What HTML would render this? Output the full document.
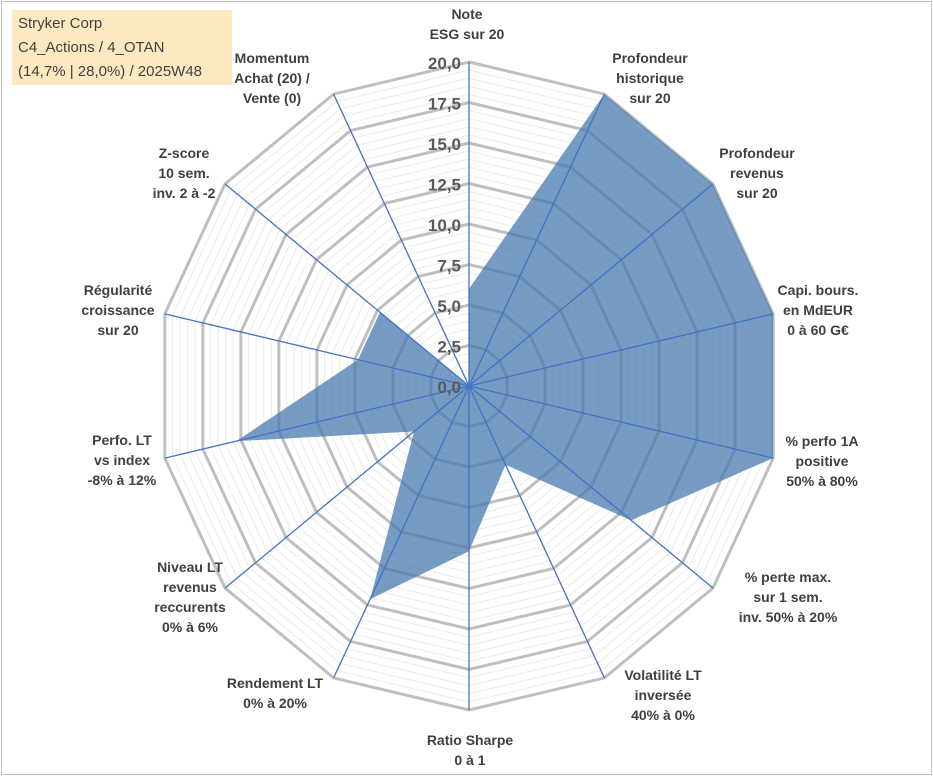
<!DOCTYPE html>
<html><head><meta charset="utf-8"><style>
body{margin:0;background:#fff;}
#wrap{position:relative;width:933px;height:776px;overflow:hidden;font-family:"Liberation Sans",sans-serif;}
#frame{position:absolute;left:1px;top:1px;width:929px;height:772px;border:1px solid #bfbfbf;}
#title{position:absolute;left:12px;top:10px;width:220px;height:75px;background:#fde9c0;color:#404040;font-size:15px;line-height:24px;padding-left:6px;box-sizing:border-box;padding-top:2px;}
</style></head><body>
<div id="wrap">
<div id="frame"></div>
<svg id="svg" width="933" height="776" style="position:absolute;left:0;top:0"></svg>
<div id="title">Stryker Corp<br>C4_Actions / 4_OTAN<br>(14,7% | 28,0%) / 2025W48</div>
</div>
<script>
const categories=[["Note","ESG sur 20"],["Profondeur","historique","sur 20"],["Profondeur","revenus","sur 20"],["Capi. bours.","en MdEUR","0 à 60 G€"],["% perfo 1A","positive","50% à 80%"],["% perte max.","sur 1 sem.","inv. 50% à 20%"],["Volatilité LT","inversée","40% à 0%"],["Ratio Sharpe","0 à 1"],["Rendement LT","0% à 20%"],["Niveau LT","revenus","reccurents","0% à 6%"],["Perfo. LT","vs index","-8% à 12%"],["Régularité","croissance","sur 20"],["Z-score","10 sem.","inv. 2 à -2"],["Momentum","Achat (20) /","Vente (0)"]];
const values=[6,20,20,20,20,13.3,5.4,10.2,14.6,4.5,15.3,7.3,7.3,0];
const tickLabels=["0,0","2,5","5,0","7,5","10,0","12,5","15,0","17,5","20,0"];
const labelPos=[[467,19],[650,63],[757,158],[818,295],[822,446],[788,582],[663,680],[470,745],[275,688],[190,572],[122,445],[118,295],[184,158],[272,63]];
const cx=469,cy=386,RX=312,RY=324,maxV=20,N=categories.length;
const svg=document.getElementById('svg');const NS='http://www.w3.org/2000/svg';
function ang(i){return i*2*Math.PI/N;}
function pt(i,v){const f=v/maxV,a=ang(i);return [cx+f*RX*Math.sin(a),cy-f*RY*Math.cos(a)];}
function mk(t,attrs){const e=document.createElementNS(NS,t);for(const k in attrs)e.setAttribute(k,attrs[k]);svg.appendChild(e);return e;}
for(let k=1;k<=40;k++){const v=k*0.5;if(k%5===0)continue;
 const p=[];for(let i=0;i<N;i++)p.push(pt(i,v).join(','));
 const e=mk('polygon',{points:p.join(' '),fill:'none',stroke:'#ececec','stroke-width':1});
 
 }
for(let k=1;k<=8;k++){const v=k*2.5;const p=[];for(let i=0;i<N;i++)p.push(pt(i,v).join(','));
 const e=mk('polygon',{points:p.join(' '),fill:'none',stroke:'#bfbfbf','stroke-width':3});
 
 }
const sp=values.map((v,i)=>pt(i,v).join(',')).join(' ');
const poly=mk('polygon',{points:sp,fill:'#4a7bb0','fill-opacity':0.75,stroke:'none'});


for(let i=0;i<N;i++){const [x,y]=pt(i,maxV);
 const l=mk('line',{x1:cx,y1:cy,x2:x,y2:y,stroke:'#4472c4','stroke-width':1.3});
 
 }
tickLabels.forEach((t,k)=>{const y=cy-(k*2.5)/maxV*RY;
 const e=mk('text',{x:cx-8,y:y+7,'text-anchor':'end','font-size':17,'font-weight':'bold',fill:'#595959'});
 e.textContent=t;
 
 });
categories.forEach((lines,i)=>{const [x,y]=labelPos[i];
 const e=mk('text',{x:x,y:y,'text-anchor':'middle','font-size':14,'font-weight':'bold',fill:'#404040'});
 
 
 lines.forEach((s,j)=>{const ts=document.createElementNS(NS,'tspan');ts.setAttribute('x',x);ts.setAttribute('dy',j===0?0:20);ts.textContent=s;e.appendChild(ts);});});
</script>
</body></html>
